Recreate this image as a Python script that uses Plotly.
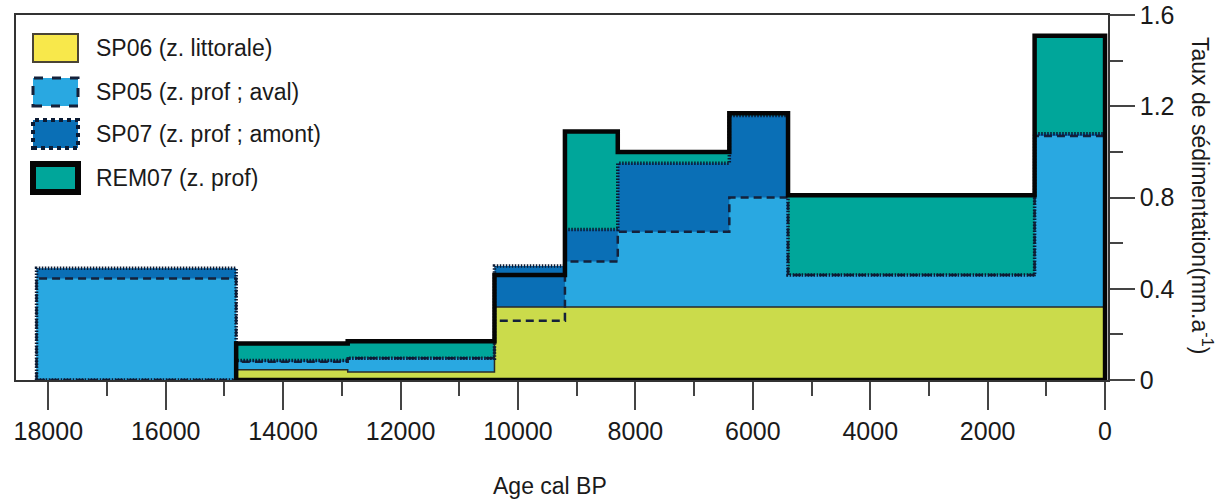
import plotly.graph_objects as go

# Age boundaries (cal BP) of the sedimentation-rate steps, oldest first
ages = [18200, 14800, 12900, 10400, 9200, 8300, 6400, 5400, 1200, 0]

# Rates (mm/a) for each interval between consecutive boundaries; None = no data
sp06 = [None, 0.045, 0.035, 0.32, 0.32, 0.32, 0.32, 0.32, 0.32]
sp05 = [0.445, 0.08, 0.095, 0.26, 0.52, 0.65, 0.80, 0.46, 1.07]
sp07 = [0.49, 0.085, 0.095, 0.50, 0.66, 0.95, 1.16, 0.46, 1.08]
rem07 = [None, 0.16, 0.17, 0.46, 1.09, 1.00, 1.17, 0.81, 1.51]

names = ["SP06 (z. littorale)", "SP05 (z. prof ; aval)", "SP07 (z. prof ; amont)", "REM07 (z. prof)"]

FONT = "Liberation Sans, Arial, sans-serif"
W, H = 1221, 502
L, R, T, B = 16, 113, 15, 122


def step_outline(edges, values):
    """Closed polygon (x, y) of a step histogram, skipping leading None intervals."""
    start = next(i for i, v in enumerate(values) if v is not None)
    xs, ys = [edges[start]], [0]
    for i in range(start, len(values)):
        xs += [edges[i], edges[i + 1]]
        ys += [values[i], values[i]]
    xs += [edges[-1], edges[start]]
    ys += [0, 0]
    return xs, ys


# back to front: fill colour, line colour, width, dash
series = [
    (rem07, "#00a69a", "#050505", 4.5, "solid"),
    (sp07, "#0a6fb6", "#0b1a33", 3.5, "1.5px,1.5px"),
    (sp05, "#29a8e1", "#15213a", 2.5, "8px,5px"),
    (sp06, "#cbdb4b", "#2a2a2a", 1.5, "solid"),
]

fig = go.Figure(layout=go.Layout(width=W, height=H))

# Fills first
for vals, fill, _, _, _ in series:
    xs, ys = step_outline(ages, vals)
    fig.add_trace(go.Scatter(x=xs, y=ys, fill="toself", fillcolor=fill, mode="none",
                             showlegend=False, hoverinfo="skip"))

# Outlines on top of all fills
for vals, _, lc, lw, dash in reversed(series):
    xs, ys = step_outline(ages, vals)
    fig.add_trace(go.Scatter(x=xs, y=ys, mode="lines", line=dict(color=lc, width=lw, dash=dash),
                             showlegend=False, hoverinfo="skip"))


def px_x(p):
    return (p - L) / (W - L - R)


def px_y(p):
    return (H - B - p) / (H - T - B)


# Hand-drawn legend in the top-left corner
legend_style = [
    ("#f8e84b", "#4a4434", 2, "solid"),
    ("#29a8e1", "#15213a", 3, "dash"),
    ("#0a6fb6", "#0b1a33", 4, "dot"),
    ("#00a69a", "#050505", 6, "solid"),
]
row_y = [48, 92, 134, 178]
shapes = []
for (fc, lc, lw, dash), yc, name in zip(legend_style, row_y, names):
    shapes.append(dict(type="rect", xref="paper", yref="paper",
                       x0=px_x(33), x1=px_x(78), y0=px_y(yc + 14), y1=px_y(yc - 14),
                       fillcolor=fc, line=dict(color=lc, width=lw, dash=dash)))
    fig.add_annotation(x=px_x(94), y=px_y(yc), xref="paper", yref="paper", text=name,
                       showarrow=False, xanchor="left", yanchor="middle",
                       font=dict(family=FONT, size=23, color="#1a1a1a"))
fig.update_layout(shapes=shapes)

fig.add_annotation(x=px_x(1202), y=px_y(195), xref="paper", yref="paper",
                   xanchor="center", yanchor="middle",
                   text="Taux de sédimentation(mm.a<sup>-1</sup>)", textangle=90,
                   showarrow=False, font=dict(family=FONT, size=23, color="#1a1a1a"))
fig.add_annotation(x=px_x(550), y=px_y(486), xref="paper", yref="paper", text="Age cal BP",
                   xanchor="center", yanchor="middle",
                   showarrow=False, font=dict(family=FONT, size=23, color="#1a1a1a"))

fig.update_xaxes(
    range=[18550, -50], tick0=0, dtick=2000, tickformat="d", automargin=False,
    ticks="outside", ticklen=28, tickwidth=1.5, tickcolor="#444",
    minor=dict(dtick=1000, ticks="outside", ticklen=14, tickwidth=1.5, tickcolor="#444"),
    showline=True, mirror=True, linecolor="#333", linewidth=1.5,
    showgrid=False, zeroline=False,
    tickfont=dict(family=FONT, size=25, color="#1a1a1a"),
)
fig.update_yaxes(
    side="right", range=[0, 1.6005], tick0=0, dtick=0.4, automargin=False,
    ticks="outside", ticklen=25, tickwidth=1.5, tickcolor="#444", ticklabelstandoff=0,
    ticklabeloverflow="allow",
    minor=dict(dtick=0.2, ticks="outside", ticklen=13, tickwidth=1.5, tickcolor="#444"),
    showline=True, mirror=True, linecolor="#333", linewidth=1.5,
    showgrid=False, zeroline=False,
    tickfont=dict(family=FONT, size=25, color="#1a1a1a"),
)
fig.update_layout(
    margin=dict(l=L, r=R, t=T, b=B),
    plot_bgcolor="white", paper_bgcolor="white",
    showlegend=False,
)

# drop the default page margin so the figure sits at the window's corner
fig.write_html("out.html", config={"displayModeBar": False},
               post_script="document.body.style.margin = '0';")
